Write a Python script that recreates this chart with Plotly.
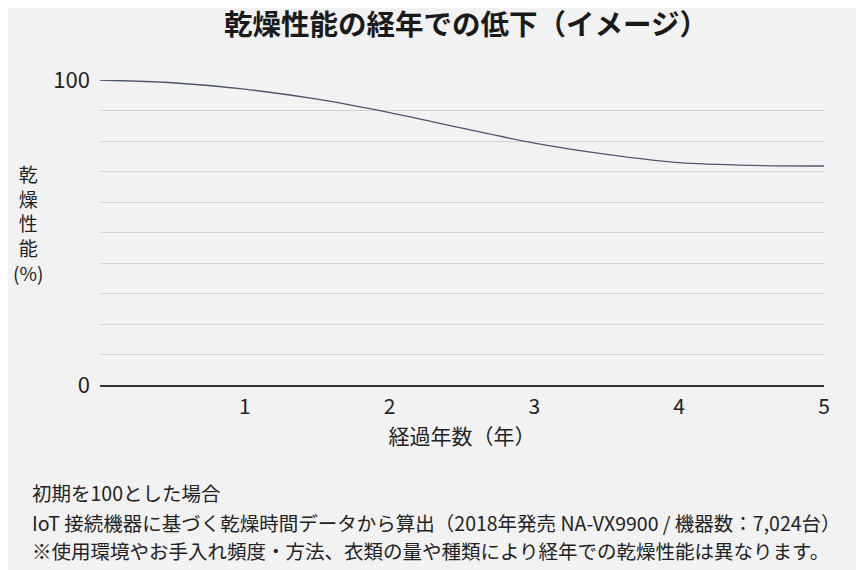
import plotly.graph_objects as go

# 経過年数と乾燥性能（初期=100, イメージ）
years = [0, 0.5, 1, 1.5, 2, 2.5, 3, 3.5, 4, 4.5, 5]
performance = [100, 99.1, 97.0, 93.7, 89.3, 84.2, 79.3, 75.6, 72.9, 72.0, 71.8]

x_ticks = [1, 2, 3, 4, 5]
y_grid = list(range(0, 101, 10))
y_labels = ['0' if v == 0 else ('100' if v == 100 else '') for v in y_grid]

title_text = '乾燥性能の経年での低下（イメージ）'
y_title = '乾<br>燥<br>性<br>能<br>(%)'
x_title = '経過年数（年）'
notes = [
    '初期を100とした場合',
    'IoT 接続機器に基づく乾燥時間データから算出（2018年発売 NA-VX9900 / 機器数：7,024台）',
    '※使用環境やお手入れ頻度・方法、衣類の量や種類により経年での乾燥性能は異なります。',
]
note_y = [-0.354, -0.452, -0.544]

FONT = 'Noto Sans CJK JP'
BG = '#f2f2f2'

fig = go.Figure()
fig.add_trace(go.Scatter(
    x=years, y=performance, mode='lines',
    line=dict(color='#4d5670', width=1.3, shape='spline', smoothing=0.8),
    hoverinfo='skip', showlegend=False,
))

# page body has an 8px margin, so the figure is a bit smaller than the window
fig.update_layout(
    width=856, height=562,
    paper_bgcolor=BG, plot_bgcolor=BG,
    margin=dict(l=92, r=40, t=72, b=185),
    font=dict(family=FONT, color='#222222', size=18),
)

fig.update_xaxes(
    range=[0, 5], tickvals=x_ticks, showgrid=False, zeroline=False,
    showline=True, linecolor='#333333', linewidth=2,
    ticks='', tickfont=dict(size=21), ticklabelstandoff=2,
    title=dict(text=x_title, font=dict(size=21), standoff=10),
)
fig.update_yaxes(
    range=[0, 100], tickvals=y_grid, ticktext=y_labels,
    showgrid=True, gridcolor='#d2d2d2', gridwidth=1, zeroline=False,
    showline=False, ticks='', tickfont=dict(size=22), ticklabelstandoff=9,
)

# title as annotation
fig.add_annotation(
    text='<b>' + title_text + '</b>', xref='paper', yref='paper', x=0.505, y=1.19,
    xanchor='center', yanchor='middle', showarrow=False,
    font=dict(size=28.5, color='#1a1a1a'),
)

fig.add_annotation(
    text=y_title, xref='paper', yref='paper', x=-0.1, y=0.532,
    xanchor='center', yanchor='middle', showarrow=False,
    font=dict(size=19), align='center',
)

for line, ny in zip(notes, note_y):
    fig.add_annotation(
        text=line, xref='paper', yref='paper', x=-0.097, y=ny,
        xanchor='left', yanchor='middle', showarrow=False,
        font=dict(size=19.5), align='left',
    )

fig.write_html("out.html")
